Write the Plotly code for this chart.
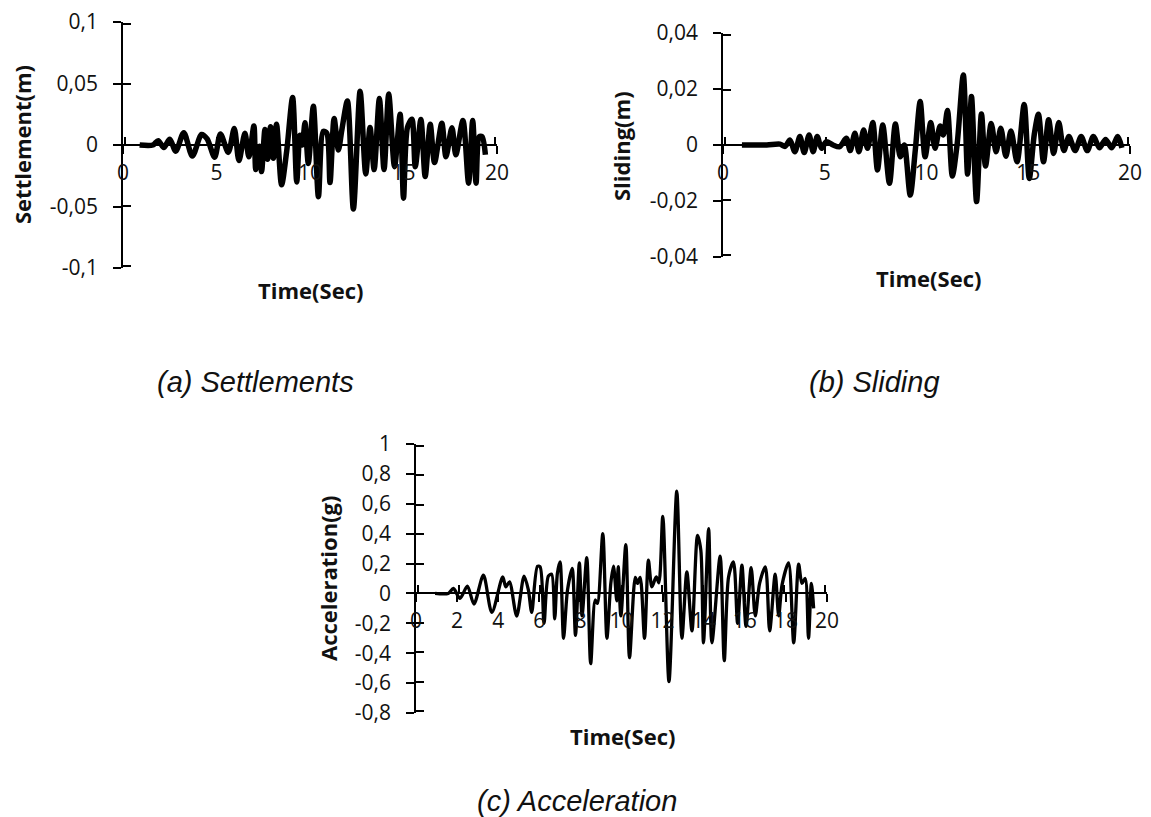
import plotly.graph_objects as go

# ---------------- data ----------------
time_settle = [0.89, 1.6, 1.88, 2.18, 2.5, 2.82, 3.25, 3.71, 4.2, 4.5, 4.9, 5.21, 5.63, 5.95, 6.2,
               6.52, 6.73, 7.0, 7.1, 7.29, 7.41, 7.59, 7.73, 7.89, 8.04, 8.21, 8.48, 8.75, 9.07,
               9.29, 9.46, 9.59, 9.73, 9.91, 10.18, 10.45, 10.71, 10.9, 11.07, 11.29, 11.52, 11.7,
               12.0, 12.32, 12.68, 12.98, 13.21, 13.43, 13.71, 13.96, 14.21, 14.52, 14.82, 15.0,
               15.21, 15.45, 15.63, 15.93, 16.16, 16.43, 16.66, 17.05, 17.27, 17.59, 17.8, 18.18,
               18.48, 18.7, 18.88, 19.05, 19.2, 19.38]
settlement = [0.0, 0.0, 0.0035, -0.002, 0.0046, -0.005, 0.010, -0.009, 0.0086, 0.005, -0.010, 0.009,
              -0.006, 0.0135, -0.0127, 0.0095, -0.0095, 0.0154, -0.020, -0.001, -0.0216, 0.0127,
              -0.0116, 0.0149, -0.0108, 0.0168, -0.0324, -0.0054, 0.0386, -0.030, 0.008, 0.0,
              0.018, -0.015, 0.0316, -0.042, 0.011, 0.0095, -0.0305, 0.0216, -0.004, 0.012,
              0.0357, -0.052, 0.0438, -0.0235, 0.0143, -0.020, 0.0378, -0.020, 0.0414, -0.0176,
              0.0249, -0.0432, 0.0143, 0.021, -0.0176, 0.0208, -0.0257, 0.0168, -0.0143, 0.0176,
              -0.0095, 0.014, -0.008, 0.020, -0.031, 0.020, -0.031, 0.0068, 0.0068, -0.008]

time_slide = [0.93, 2.15, 2.8, 3.05, 3.29, 3.53, 3.78, 3.99, 4.23, 4.43, 4.63, 4.84, 5.08, 5.41,
              5.73, 6.06, 6.25, 6.48, 6.68, 6.91, 7.1, 7.36, 7.59, 7.85, 8.18, 8.47, 8.71, 8.91,
              9.2, 9.45, 9.69, 9.93, 10.21, 10.42, 10.67, 10.83, 11.03, 11.27, 11.51, 11.81,
              12.02, 12.21, 12.46, 12.7, 12.9, 13.18, 13.42, 13.65, 13.9, 14.15, 14.45, 14.8,
              15.05, 15.3, 15.5, 15.75, 16.0, 16.25, 16.5, 16.75, 17.0, 17.3, 17.6, 17.9, 18.2,
              18.5, 18.8, 19.1, 19.4, 19.6]
sliding = [0.0, 0.0, 0.0003, -0.0005, 0.0018, -0.0024, 0.003, -0.0027, 0.0036, -0.0024, 0.003,
           -0.0012, 0.0012, 0.0, -0.0006, 0.0024, -0.002, 0.0042, -0.0024, 0.0054, -0.0012, 0.008,
           -0.0089, 0.0071, -0.0137, 0.0075, -0.0042, 0.0, -0.0179, -0.0018, 0.0155, -0.0042,
           0.008, -0.0012, 0.0068, 0.0036, 0.0123, -0.0111, 0.0006, 0.025, -0.0104, 0.0173,
           -0.0202, 0.0111, -0.0075, 0.0077, -0.0024, 0.006, -0.004, 0.005, -0.006, 0.0145,
           -0.012, 0.004, 0.011, -0.006, 0.009, -0.003, 0.008, -0.002, 0.003, -0.002, 0.003,
           -0.002, 0.003, -0.001, 0.002, -0.001, 0.003, -0.001]

time_acc = [0.93, 1.57, 1.82, 2.14, 2.5, 2.82, 3.28, 3.69, 4.22, 4.37, 4.55, 4.9, 5.26, 5.47, 5.63,
            5.91, 6.04, 6.23, 6.44, 6.6, 6.75, 6.88, 7.01, 7.18, 7.37, 7.6, 7.76, 7.95, 8.08,
            8.31, 8.5, 8.72, 8.83, 9.09, 9.29, 9.48, 9.61, 9.77, 9.84, 9.97, 10.21, 10.39,
            10.67, 10.78, 10.91, 11.12, 11.31, 11.48, 11.69, 11.82, 12.01, 12.31, 12.69, 12.94,
            13.18, 13.43, 13.7, 13.86, 13.99, 14.24, 14.4, 14.8, 15.0, 15.21, 15.45, 15.65,
            15.86, 16.06, 16.31, 16.51, 16.72, 17.0, 17.21, 17.48, 17.65, 17.81, 18.13, 18.38,
            18.62, 18.78, 18.94, 19.1, 19.24, 19.35]
acceleration = [0.0, 0.0, 0.033, -0.033, 0.049, -0.071, 0.122, -0.127, 0.111, 0.044, 0.078, -0.151,
                0.116, 0.022, -0.127, 0.182, 0.178, -0.20, 0.116, 0.129, -0.17, 0.133, 0.211,
                -0.30, 0.02, 0.167, -0.28, 0.204, -0.15, 0.24, -0.47, -0.044, -0.067, 0.40,
                -0.30, 0.067, 0.182, -0.05, 0.18, -0.15, 0.327, -0.43, 0.107, 0.067, 0.107,
                -0.30, 0.222, 0.044, 0.111, 0.071, 0.516, -0.59, 0.684, -0.30, 0.144, -0.25,
                0.389, 0.29, -0.33, 0.433, -0.33, 0.249, -0.45, 0.11, 0.211, -0.20, 0.189,
                -0.22, 0.173, -0.15, 0.067, 0.178, -0.25, 0.129, -0.15, 0.056, 0.204, -0.33,
                0.196, 0.067, 0.10, -0.30, 0.067, -0.10]

x_ticks_ab = [0, 5, 10, 15, 20]
x_ticks_c = [0, 2, 4, 6, 8, 10, 12, 14, 16, 18, 20]
y_ticks_a = [-0.1, -0.05, 0, 0.05, 0.1]
y_text_a = ["-0,1", "-0,05", "0", "0,05", "0,1"]
y_ticks_b = [-0.04, -0.02, 0, 0.02, 0.04]
y_text_b = ["-0,04", "-0,02", "0", "0,02", "0,04"]
y_ticks_c = [-0.8, -0.6, -0.4, -0.2, 0, 0.2, 0.4, 0.6, 0.8, 1]
y_text_c = ["-0,8", "-0,6", "-0,4", "-0,2", "0", "0,2", "0,4", "0,6", "0,8", "1"]

# ---------------- layout helpers ----------------
W, H = 1151, 817
def fx(p):
    return p / W
def fy(p):
    return 1 - p / H

TICKFONT = dict(family="Open Sans", size=21, color="#111")
TITLEFONT = dict(family="Open Sans", size=22, color="#111")
CAPFONT = dict(family="Liberation Sans", size=29, color="#111")
LW = 1.5

fig = go.Figure()

fig.add_trace(go.Scatter(x=time_settle, y=settlement, mode="lines", xaxis="x", yaxis="y",
                         line=dict(color="black", width=5.5, shape="spline", smoothing=0.8),
                         showlegend=False, hoverinfo="skip"))
fig.add_trace(go.Scatter(x=time_slide, y=sliding, mode="lines", xaxis="x2", yaxis="y2",
                         line=dict(color="black", width=5.5, shape="spline", smoothing=0.8),
                         showlegend=False, hoverinfo="skip"))
fig.add_trace(go.Scatter(x=time_acc, y=acceleration, mode="lines", xaxis="x3", yaxis="y3",
                         line=dict(color="black", width=3.3, shape="spline", smoothing=0.8),
                         showlegend=False, hoverinfo="skip"))

# main axis ids, inner-tick twin ids, label-carrier twin ids, pixel boxes, ranges, ticks
panels = [
    ("x", "y", "x4", "y4", "x7", "y7", (123, 497), (22, 268), (-0.1, 0.1), y_ticks_a, y_text_a, x_ticks_ab),
    ("x2", "y2", "x5", "y5", "x8", "y8", (723, 1130), (33, 257), (-0.04, 0.04), y_ticks_b, y_text_b, x_ticks_ab),
    ("x3", "y3", "x6", "y6", "x9", "y9", (416, 827), (444, 713), (-0.8, 1.0), y_ticks_c, y_text_c, x_ticks_c),
]

def key(a):
    return "xaxis" + a[1:] if a.startswith("x") else "yaxis" + a[1:]

layout_axes = {}
for xm, ym, xo, yo, xl, yl, xd, yd, yr, yt, ytt, xt in panels:
    xdom = [fx(xd[0]), fx(xd[1])]
    ydom = [fy(yd[1]), fy(yd[0])]
    zero_pos = ydom[0] + (0 - yr[0]) / (yr[1] - yr[0]) * (ydom[1] - ydom[0])
    ex = 2.0 / (xd[1] - xd[0]) * 20
    ey = 2.0 / (yd[1] - yd[0]) * (yr[1] - yr[0])
    common = dict(showgrid=False, zeroline=False, fixedrange=True, automargin=False)
    # main axes: line + outward half of every crossing tick
    layout_axes[key(xm)] = dict(domain=xdom, range=[0, 20], anchor="free", position=zero_pos,
                                showline=True, linecolor="black", linewidth=LW,
                                ticks="outside", ticklen=8, tickwidth=LW, tickcolor="black",
                                tickmode="array", tickvals=xt, showticklabels=False, **common)
    layout_axes[key(ym)] = dict(domain=ydom, range=list(yr), anchor=xm,
                                showline=True, linecolor="black", linewidth=LW,
                                ticks="outside", ticklen=8, tickwidth=LW, tickcolor="black",
                                tickmode="array", tickvals=yt, showticklabels=False, **common)
    # twins: inward half of every crossing tick
    layout_axes[key(xo)] = dict(overlaying=xm, range=[-ex, 20 + ex], anchor="free", position=zero_pos,
                                showline=False, ticks="inside", ticklen=8, tickwidth=LW,
                                tickcolor="black", tickmode="array", tickvals=xt,
                                showticklabels=False, side="bottom", **common)
    layout_axes[key(yo)] = dict(overlaying=ym, range=[yr[0] - ey, yr[1] + ey], anchor=xm, side="left",
                                showline=False, ticks="inside", ticklen=8, tickwidth=LW,
                                tickcolor="black", tickmode="array", tickvals=yt,
                                showticklabels=False, **common)
    # twins carrying the tick labels
    layout_axes[key(xl)] = dict(overlaying=xm, range=[0, 20], anchor="free", position=zero_pos,
                                side="bottom", showline=False, ticks="",
                                tickmode="array", tickvals=xt, ticktext=[str(v) for v in xt],
                                tickfont=TICKFONT, ticklabelstandoff=13, **common)
    layout_axes[key(yl)] = dict(overlaying=ym, range=list(yr), anchor=xm, side="left",
                                showline=False, ticks="", tickmode="array", tickvals=yt,
                                ticktext=ytt, tickfont=TICKFONT, ticklabelstandoff=24, **common)
    for xa, ya in ((xo, ym), (xm, yo), (xl, ym), (xm, yl)):
        fig.add_trace(go.Scatter(x=[], y=[], xaxis=xa, yaxis=ya, showlegend=False, hoverinfo="skip"))

annotations = [
    dict(text="<b>Settlement(m)</b>", x=fx(22), y=fy(145), textangle=-90, font=TITLEFONT),
    dict(text="<b>Time(Sec)</b>", x=fx(310), y=fy(290), font=TITLEFONT),
    dict(text="<b>Sliding(m)</b>", x=fx(621), y=fy(146), textangle=-90, font=TITLEFONT),
    dict(text="<b>Time(Sec)</b>", x=fx(928), y=fy(278), font=TITLEFONT),
    dict(text="<b>Acceleration(g)</b>", x=fx(328), y=fy(579), textangle=-90, font=TITLEFONT),
    dict(text="<b>Time(Sec)</b>", x=fx(622), y=fy(736), font=TITLEFONT),
    dict(text="<i>(a) Settlements</i>", x=fx(255), y=fy(382), font=CAPFONT),
    dict(text="<i>(b) Sliding</i>", x=fx(874), y=fy(382), font=CAPFONT),
    dict(text="<i>(c) Acceleration</i>", x=fx(577), y=fy(801), font=CAPFONT),
]
for a in annotations:
    a.update(xref="paper", yref="paper", showarrow=False, xanchor="center", yanchor="middle")

fig.update_layout(width=W, height=H, margin=dict(l=0, r=0, t=0, b=0),
                  paper_bgcolor="white", plot_bgcolor="white",
                  annotations=annotations, **layout_axes)

fig.write_html("out.html")
